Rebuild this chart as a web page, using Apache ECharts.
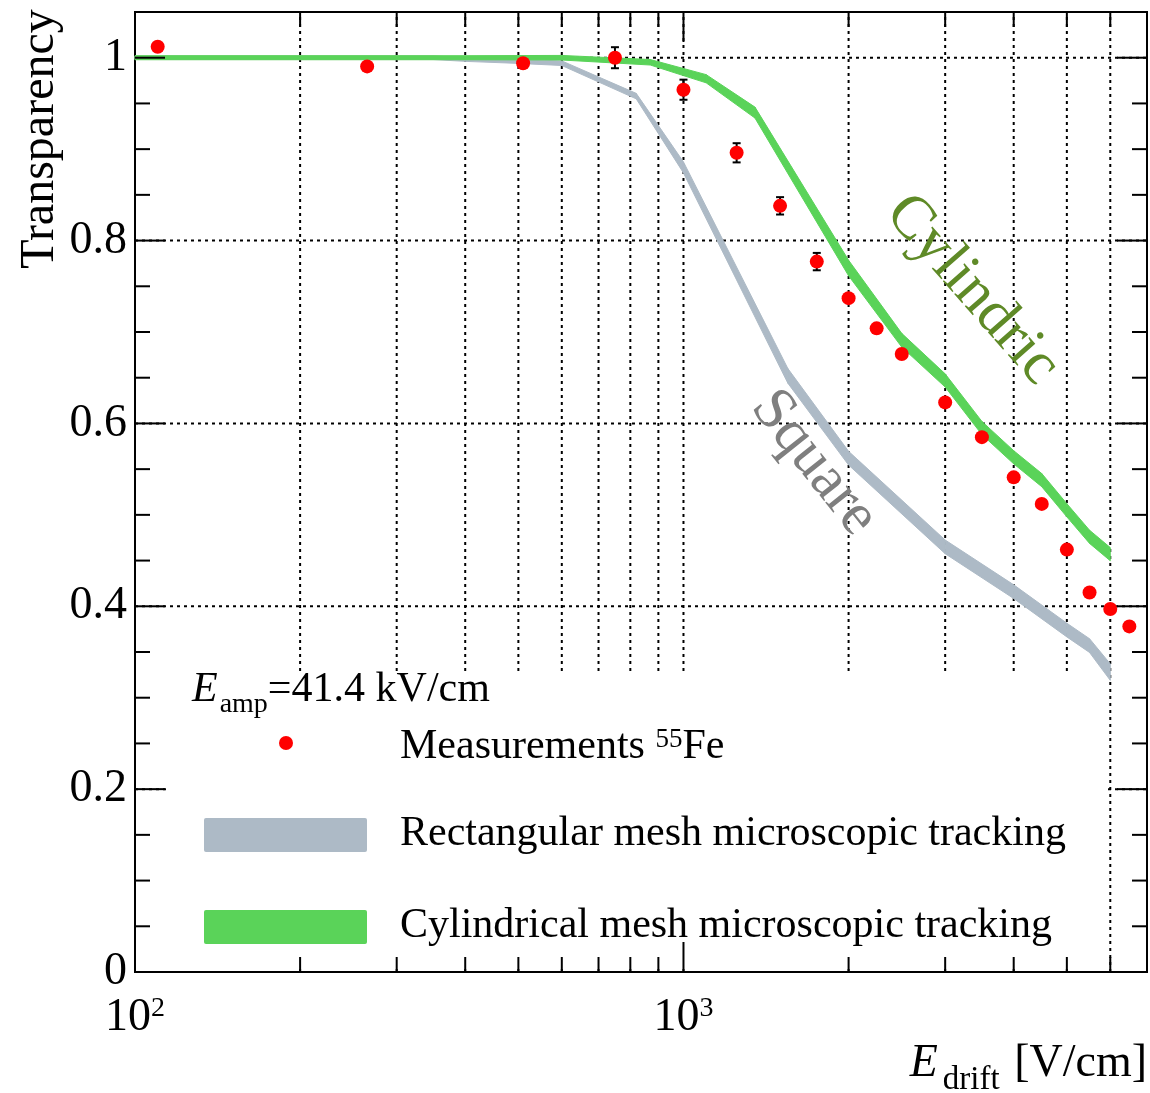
<!DOCTYPE html>
<html>
<head>
<meta charset="utf-8">
<script src="https://cdn.jsdelivr.net/npm/echarts@6/dist/echarts.min.js"></script>
<style>html,body{margin:0;padding:0;background:#fff}#c{width:1150px;height:1093px}</style>
</head>
<body>
<div id="c"></div>
<script>
// ---------------- data ----------------
const measE   = [110, 265, 510, 750, 1000, 1250, 1500, 1750, 2000, 2250, 2500, 3000, 3500, 4000, 4500, 5000, 5500, 6000, 6500];
const measT   = [1.012, 0.9905, 0.994, 1.000, 0.965, 0.896, 0.838, 0.777, 0.737, 0.704, 0.676, 0.623, 0.585, 0.541, 0.512, 0.462, 0.415, 0.397, 0.378];
const measErr = [0, 0, 0, 0.0115, 0.011, 0.0105, 0.0095, 0.0095, 0, 0, 0, 0, 0, 0, 0, 0, 0, 0, 0];

const squareE   = [100, 350, 400, 500, 600, 820, 1000, 1550, 2000, 3000, 4000, 5000, 5500, 6000];
const squareT   = [1.0, 1.0, 0.998, 0.996, 0.994, 0.958, 0.88, 0.652, 0.562, 0.465, 0.416, 0.374, 0.357, 0.328];
const squareErr = [0.002, 0.002, 0.002, 0.0022, 0.0025, 0.003, 0.006, 0.008, 0.0075, 0.0075, 0.0075, 0.0075, 0.0075, 0.009];

const cylE   = [100, 400, 600, 870, 1100, 1350, 2000, 2500, 3000, 3500, 4000, 4500, 5000, 5500, 6000];
const cylT   = [1.0, 1.0, 1.0, 0.995, 0.977, 0.94, 0.770, 0.691, 0.647, 0.595, 0.563, 0.538, 0.505, 0.476, 0.457];
const cylErr = [0.0022, 0.0022, 0.0025, 0.003, 0.0045, 0.006, 0.0085, 0.0075, 0.0072, 0.0072, 0.0072, 0.0072, 0.0072, 0.0072, 0.0072];

const X_MIN = 100, X_MAX = 7000, Y_MIN = 0, Y_MAX = 1.05;
const xLabelValues = [100, 1000];
const xMajorTicks  = [100, 1000];
const xMinorTicks  = [200, 300, 400, 500, 600, 700, 800, 900, 2000, 3000, 4000, 5000, 6000];
const xGridValues  = [200, 300, 400, 500, 600, 700, 800, 900, 1000, 2000, 3000, 4000, 5000, 6000];
const yLabelValues = [0, 0.2, 0.4, 0.6, 0.8, 1.0];
const yMajorTicks  = [0, 0.2, 0.4, 0.6, 0.8, 1.0];
const yMinorTicks  = [0.05, 0.1, 0.15, 0.25, 0.3, 0.35, 0.45, 0.5, 0.55, 0.65, 0.7, 0.75, 0.85, 0.9, 0.95];
const yGridValues  = [0.2, 0.4, 0.6, 0.8, 1.0];

// ---------------- style ----------------
const SERIF = '"Liberation Serif", "DejaVu Serif", "Times New Roman", serif';
const COL_SQUARE = '#adbac6', COL_CYL = '#5ad359', COL_MEAS = '#ff0000';
const COL_CYL_TEXT = '#5f8a27', COL_SQ_TEXT = '#7f7f7f';

const chart = echarts.init(document.getElementById('c'), null, {renderer: 'canvas', width: 1150, height: 1093});

function segs(E, T, D) {
  const out = [];
  for (let i = 0; i < E.length - 1; i++) out.push([E[i], T[i], D[i], E[i + 1], T[i + 1], D[i + 1]]);
  return out;
}
function bandSeries(name, E, T, D, color, z) {
  return {
    type: 'custom', name, z, silent: true,
    dimensions: ['e0', 't0', 'd0', 'e1', 't1', 'd1'],
    encode: {x: 0, y: 1},
    data: segs(E, T, D),
    renderItem(params, api) {
      const e0 = api.value(0), t0 = api.value(1), d0 = api.value(2);
      const e1 = api.value(3), t1 = api.value(4), d1 = api.value(5);
      const pts = [api.coord([e0, t0 + d0]), api.coord([e1, t1 + d1]), api.coord([e1, t1 - d1]), api.coord([e0, t0 - d0])];
      return {type: 'polygon', shape: {points: pts}, style: {fill: color, stroke: color, lineWidth: 1}};
    }
  };
}

const option = {
  animation: false,
  backgroundColor: '#fff',
  grid: {left: 135, right: 3, top: 12, bottom: 121, show: true, borderColor: '#000', borderWidth: 2,
         backgroundColor: 'transparent', containLabel: false, outerBoundsMode: 'none'},
  xAxis: {
    type: 'log', logBase: 10, min: X_MIN, max: X_MAX,
    axisLine: {show: false}, axisTick: {show: false}, splitLine: {show: false}, minorTick: {show: false},
    axisLabel: {
      margin: 23, color: '#000', fontFamily: SERIF, fontSize: 46,
      formatter: v => {
        const e = Math.round(Math.log10(v));
        const p = Math.pow(10, e);
        if (Math.abs(p - v) > 1e-6 * v || xLabelValues.indexOf(p) < 0) return '';
        return '{b|10}{s|' + e + '}';
      },
      rich: {
        b: {fontFamily: SERIF, fontSize: 46, lineHeight: 46, verticalAlign: 'top', color: '#000'},
        s: {fontFamily: SERIF, fontSize: 28, lineHeight: 14, verticalAlign: 'top', color: '#000'}
      }
    }
  },
  yAxis: {
    type: 'value', min: Y_MIN, max: Y_MAX, interval: 0.2,
    axisLine: {show: false}, axisTick: {show: false}, splitLine: {show: false},
    axisLabel: {
      margin: 8, color: '#000', fontFamily: SERIF, fontSize: 46,
      formatter: v => {
        const m = yLabelValues.find(t => Math.abs(t - v) < 1e-9);
        if (m === undefined) return '';
        return (m === 0 || m === 1) ? String(m) : m.toFixed(1);
      }
    }
  },
  series: [
    { // vertical dotted grid
      type: 'custom', name: 'xgrid', z: 1, silent: true,
      data: xGridValues.map(v => [v, Y_MIN]),
      renderItem(params, api) {
        const v = api.value(0);
        const a = api.coord([v, Y_MIN]), b = api.coord([v, Y_MAX]);
        return {type: 'line', shape: {x1: a[0], y1: a[1], x2: b[0], y2: b[1]}, style: {stroke: '#000', lineWidth: 2, lineDash: [3, 4]}};
      }
    },
    { // horizontal dotted grid
      type: 'custom', name: 'ygrid', z: 1, silent: true,
      data: yGridValues.map(v => [X_MIN, v]),
      renderItem(params, api) {
        const v = api.value(1);
        const a = api.coord([X_MIN, v]), b = api.coord([X_MAX, v]);
        return {type: 'line', shape: {x1: a[0], y1: a[1], x2: b[0], y2: b[1]}, style: {stroke: '#000', lineWidth: 2, lineDash: [3, 4]}};
      }
    },
    bandSeries('Rectangular mesh microscopic tracking', squareE, squareT, squareErr, COL_SQUARE, 3),
    bandSeries('Cylindrical mesh microscopic tracking', cylE, cylT, cylErr, COL_CYL, 3.5),
    { // error bars
      type: 'custom', name: 'errors', z: 4, silent: true,
      data: measE.map((e, i) => [e, measT[i], measErr[i]]).filter(d => d[2] > 0),
      renderItem(params, api) {
        const e = api.value(0), t = api.value(1), d = api.value(2);
        const top = api.coord([e, t + d]), bot = api.coord([e, t - d]);
        const st = {stroke: '#000', lineWidth: 2};
        return {type: 'group', children: [
          {type: 'line', shape: {x1: top[0], y1: top[1], x2: bot[0], y2: bot[1]}, style: st},
          {type: 'line', shape: {x1: top[0] - 4, y1: top[1], x2: top[0] + 4, y2: top[1]}, style: st},
          {type: 'line', shape: {x1: bot[0] - 4, y1: bot[1], x2: bot[0] + 4, y2: bot[1]}, style: st}
        ]};
      }
    },
    {
      type: 'scatter', name: 'Measurements 55Fe', z: 5, symbol: 'circle', symbolSize: 14,
      itemStyle: {color: COL_MEAS, opacity: 1}, data: measE.map((e, i) => [e, measT[i]])
    },
    { // x ticks (bottom and top, inward)
      type: 'custom', name: 'xticks', z: 6, silent: true,
      data: xMajorTicks.map(v => [v, Y_MIN, 30]).concat(xMinorTicks.map(v => [v, Y_MIN, 15])),
      renderItem(params, api) {
        const v = api.value(0), L = api.value(2);
        const a = api.coord([v, Y_MIN]), b = api.coord([v, Y_MAX]);
        const st = {stroke: '#000', lineWidth: 2};
        return {type: 'group', children: [
          {type: 'line', shape: {x1: a[0], y1: a[1], x2: a[0], y2: a[1] - L}, style: st},
          {type: 'line', shape: {x1: b[0], y1: b[1], x2: b[0], y2: b[1] + L}, style: st}
        ]};
      }
    },
    { // y ticks (left and right, inward)
      type: 'custom', name: 'yticks', z: 6, silent: true,
      data: yMajorTicks.map(v => [X_MIN, v, 30]).concat(yMinorTicks.map(v => [X_MIN, v, 15])),
      renderItem(params, api) {
        const v = api.value(1), L = api.value(2);
        const a = api.coord([X_MIN, v]), b = api.coord([X_MAX, v]);
        const st = {stroke: '#000', lineWidth: 2};
        return {type: 'group', children: [
          {type: 'line', shape: {x1: a[0], y1: a[1], x2: a[0] + L, y2: a[1]}, style: st},
          {type: 'line', shape: {x1: b[0], y1: b[1], x2: b[0] - L, y2: b[1]}, style: st}
        ]};
      }
    }
  ],
  graphic: [
    // legend background (hides grid lines underneath)
    {type: 'rect', z: 2, silent: true, shape: {x: 169, y: 672, width: 936, height: 296}, style: {fill: '#fff'}},
    // legend header
    {type: 'text', z: 7, x: 192, y: 669, style: {
      text: '{i|E}{s|amp}{n|=41.4 kV/cm}', align: 'left', verticalAlign: 'top',
      rich: {
        i: {fontFamily: SERIF, fontStyle: 'italic', fontSize: 42, lineHeight: 42, verticalAlign: 'top', fill: '#000'},
        s: {fontFamily: SERIF, fontSize: 28, lineHeight: 50, verticalAlign: 'bottom', fill: '#000', padding: [0, 0, 0, 2]},
        n: {fontFamily: SERIF, fontSize: 42, lineHeight: 42, verticalAlign: 'top', fill: '#000'}
      }
    }},
    {type: 'circle', z: 7, shape: {cx: 286, cy: 743, r: 7}, style: {fill: COL_MEAS}},
    {type: 'text', z: 7, x: 400, y: 726, style: {
      text: '{n|Measurements }{s|55}{n|Fe}', align: 'left', verticalAlign: 'top',
      rich: {
        n: {fontFamily: SERIF, fontSize: 42, lineHeight: 42, verticalAlign: 'top', fill: '#000'},
        s: {fontFamily: SERIF, fontSize: 27, lineHeight: 18, verticalAlign: 'top', fill: '#000'}
      }
    }},
    {type: 'rect', z: 7, shape: {x: 204, y: 818, width: 163, height: 34, r: 2}, style: {fill: COL_SQUARE}},
    {type: 'text', z: 7, x: 400, y: 834, style: {
      text: 'Rectangular mesh microscopic tracking', align: 'left', verticalAlign: 'middle',
      fontFamily: SERIF, fontSize: 42, fill: '#000'}},
    {type: 'rect', z: 7, shape: {x: 204, y: 910, width: 163, height: 34, r: 2}, style: {fill: COL_CYL}},
    {type: 'text', z: 7, x: 400, y: 926, style: {
      text: 'Cylindrical mesh microscopic tracking', align: 'left', verticalAlign: 'middle',
      fontFamily: SERIF, fontSize: 42, fill: '#000'}},
    // curve annotations
    {type: 'text', z: 7, x: 972, y: 290, rotation: -0.85, style: {
      text: 'Cylindric', align: 'center', verticalAlign: 'middle', fontFamily: SERIF, fontSize: 61, fill: COL_CYL_TEXT}},
    {type: 'text', z: 7, x: 814, y: 463, rotation: -0.9, style: {
      text: 'Square', align: 'center', verticalAlign: 'middle', fontFamily: SERIF, fontSize: 60, fill: COL_SQ_TEXT}},
    // axis titles
    {type: 'text', z: 7, x: 40, y: 139, rotation: Math.PI / 2, style: {
      text: 'Transparency', align: 'center', verticalAlign: 'middle', fontFamily: SERIF, fontSize: 48, fill: '#000'}},
    {type: 'text', z: 7, x: 1147, y: 1041, style: {
      text: '{i|E}{s|drift}{n| [V/cm]}', align: 'right', verticalAlign: 'top',
      rich: {
        i: {fontFamily: SERIF, fontStyle: 'italic', fontSize: 46, lineHeight: 46, verticalAlign: 'top', fill: '#000'},
        s: {fontFamily: SERIF, fontSize: 33, lineHeight: 56, verticalAlign: 'bottom', fill: '#000', padding: [0, 3, 0, 5]},
        n: {fontFamily: SERIF, fontSize: 46, lineHeight: 46, verticalAlign: 'top', fill: '#000'}
      }
    }}
  ]
};
chart.setOption(option);
</script>
</body>
</html>
